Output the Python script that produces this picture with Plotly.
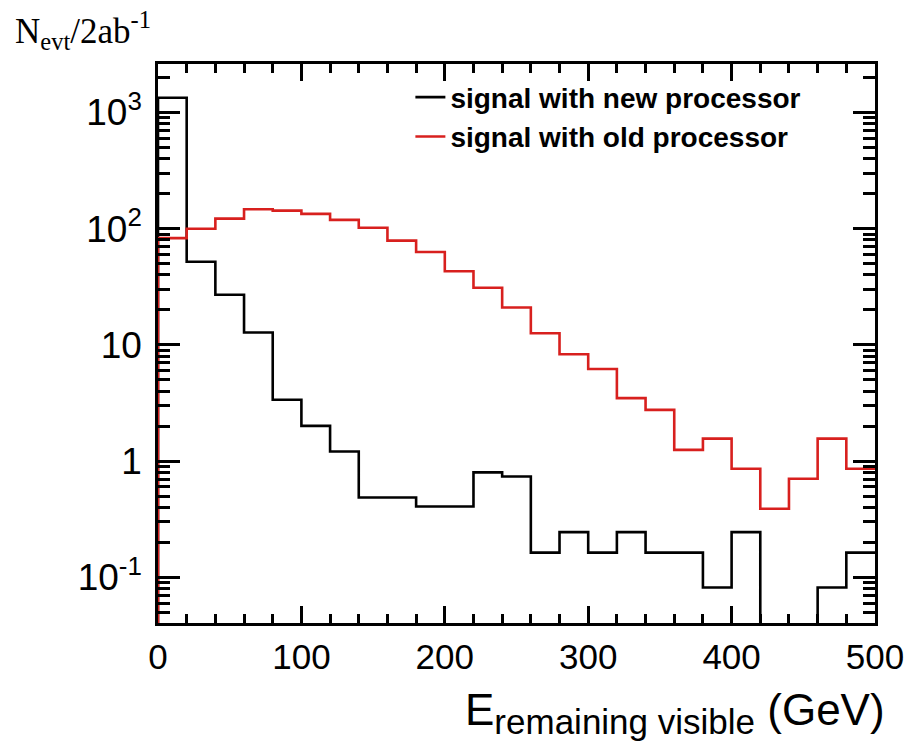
import plotly.graph_objects as go

# ---- data ----
bin_edges = list(range(0, 520, 20))  # GeV
new_processor = [1340, 52, 27, 12.8, 3.37, 2.01, 1.21, 0.486, 0.486, 0.407, 0.407,
                 0.80, 0.738, 0.163, 0.245, 0.163, 0.245, 0.163, 0.163, 0.0817,
                 0.245, 0, 0, 0.0817, 0.163]
old_processor = [83, 100, 122, 147, 143, 134, 119, 102, 79, 63, 43, 31, 21, 12.6,
                 8.3, 6.2, 3.48, 2.76, 1.25, 1.56, 0.86, 0.389, 0.705, 1.56, 0.86]
series_names = ["signal with new processor", "signal with old processor"]
y_tickvals = [0.1, 1, 10, 100, 1000]
y_ticktext = ["10<sup>-1</sup>", "1", "10", "10<sup>2</sup>", "10<sup>3</sup>"]
x_tickvals = [0, 100, 200, 300, 400, 500]

Y_LOG_RANGE = [-1.393, 3.417]
FLOOR = 10 ** (Y_LOG_RANGE[0] - 1)  # empty bins drawn below the visible range


def step_xy(vals):
    v = [x if x > 0 else FLOOR for x in vals]
    xs = [bin_edges[0]] + bin_edges[:-1] + [bin_edges[-1]]
    ys = [FLOOR] + v + [v[-1]]
    return xs, ys


fig = go.Figure()
for vals, name, col in [(new_processor, series_names[0], "black"),
                        (old_processor, series_names[1], "#d8201e")]:
    xs, ys = step_xy(vals)
    fig.add_trace(go.Scatter(x=xs, y=ys, mode="lines", name=name,
                             line=dict(color=col, width=2.6, shape="hv")))

FONT = "Liberation Sans, Arial, Helvetica, sans-serif"

fig.update_layout(
    width=916, height=752,
    margin=dict(l=158, r=36, t=64, b=129),
    paper_bgcolor="white", plot_bgcolor="white",
    font=dict(family=FONT, color="black"),
    showlegend=True,
    legend=dict(x=0.352, y=0.985, xanchor="left", yanchor="top",
                bgcolor="rgba(0,0,0,0)", borderwidth=0,
                font=dict(family=FONT, size=28, weight="bold", color="black"),
                tracegroupgap=0, itemwidth=30),
    xaxis=dict(range=[0, 500], showgrid=False, zeroline=False,
               showline=True, linecolor="black", linewidth=2.5, mirror="allticks",
               ticks="inside", ticklen=17, tickwidth=2.5, tickcolor="black",
               tickmode="array", tickvals=x_tickvals,
               tickfont=dict(family=FONT, size=35, color="black"),
               ticklabelstandoff=1,
               minor=dict(ticks="inside", ticklen=9, tickwidth=2.5, tickcolor="black",
                          dtick=20, tick0=0, showgrid=False)),
    yaxis=dict(type="log", range=Y_LOG_RANGE, showgrid=False, zeroline=False,
               showline=True, linecolor="black", linewidth=2.5, mirror="allticks",
               ticks="inside", ticklen=22, tickwidth=2.5, tickcolor="black",
               tickmode="array", tickvals=y_tickvals, ticktext=y_ticktext,
               tickfont=dict(family=FONT, size=37, color="black"),
               ticklabelstandoff=6,
               minor=dict(ticks="inside", ticklen=12, tickwidth=2.5, tickcolor="black",
                          dtick="D1", showgrid=False)),
)

fig.add_annotation(
    text="E<sub><span style='font-size:35px'>remaining visible</span></sub> (GeV)",
    xref="paper", yref="paper", x=1.0, y=0, xanchor="right", yanchor="top",
    xshift=12, yshift=-60, showarrow=False,
    font=dict(family=FONT, size=44, color="black"))

fig.add_annotation(
    text="N<sub>evt</sub>/2ab<sup>-1</sup>",
    xref="paper", yref="paper", x=0, y=1, xanchor="left", yanchor="top",
    xshift=-145, yshift=60, showarrow=False,
    font=dict(family="Liberation Serif, Times New Roman, serif", size=35, color="black"))

fig.write_html("out.html")
